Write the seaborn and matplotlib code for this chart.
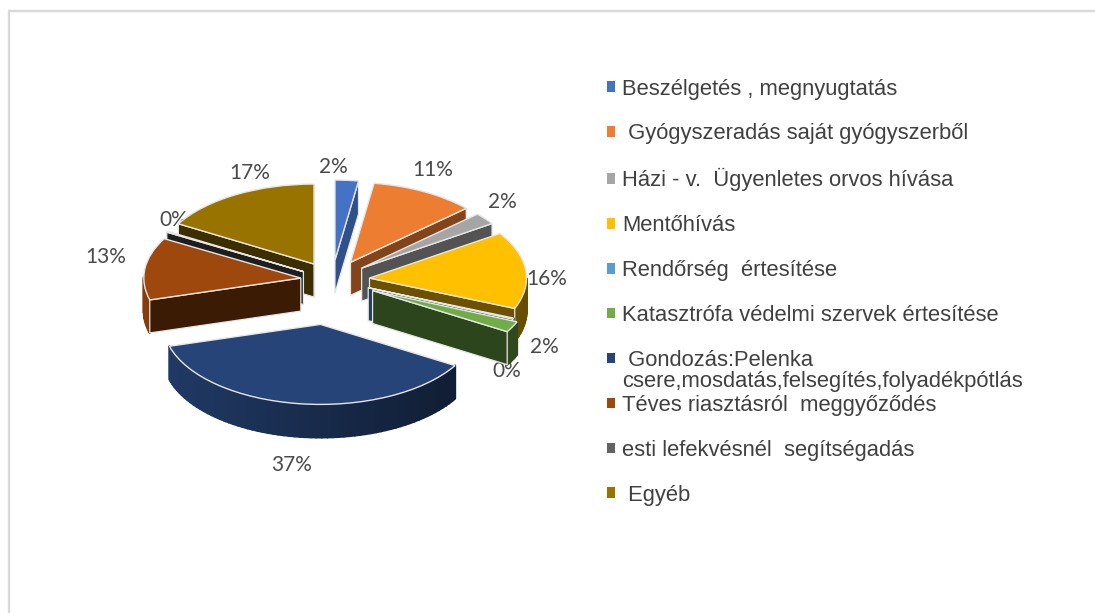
import numpy as np
import seaborn as sns
import matplotlib
matplotlib.use("Agg")
import matplotlib.pyplot as plt
from matplotlib.patches import Patch, Polygon
from matplotlib.lines import Line2D

categories = ["Beszélgetés , megnyugtatás", " Gyógyszeradás saját gyógyszerből",
              "Házi - v.  Ügyenletes orvos hívása", "Mentőhívás", "Rendőrség  értesítése",
              "Katasztrófa védelmi szervek értesítése", " Gondozás:Pelenka",
              "Téves riasztásról  meggyőződés", "esti lefekvésnél  segítségadás", " Egyéb"]
wrapped_line = "csere,mosdatás,felsegítés,folyadékpótlás"
values = [2.4, 10.8, 2.4, 15.6, 0.2, 2.2, 37.0, 12.6, 0.2, 16.6]
explode = [0.25, 0.25, 0.24, 0.24, 0.25, 0.29, 0.56, 0.20, 0.21, 0.23]
colors = ["#4472C4", "#ED7D31", "#A5A5A5", "#FFC000", "#5B9BD5",
          "#70AD47", "#264478", "#9E480E", "#636363", "#997300"]
face_shade = [0.70, 0.55, 0.50, 0.42, 0.40, 0.40, 0.40, 0.38, 0.30, 0.40]
label_xy = [(333, 167), (433, 170), (502, 202), (547, 279), (507, 371),
            (544, 347), (292, 465), (106, 257), (174, 220), (250, 173)]

W, H = 1095, 613
sns.set_theme(style="white")
plt.rcParams["font.family"] = ["Liberation Sans", "DejaVu Sans"]

fig = plt.figure(figsize=(W / 100, H / 100), dpi=100, facecolor="white")
RX, RY, CX, CY, DEPTH = 157.0, 80.0, 332.0, 280.0, 33.0

# axes whose unit circle maps to the pie's flattened ellipse
ax = fig.add_axes([0, 0, 1, 1])
wedges, _ = ax.pie(values, colors=colors, startangle=90, counterclock=False, explode=explode,
                   wedgeprops=dict(edgecolor="#e6e6e6", linewidth=1.0))
ax.set_aspect("auto")
ax.set_xlim(-CX / RX, (W - CX) / RX)
ax.set_ylim(-(H - CY) / RY, CY / RY)
ax.axis("off")
d = DEPTH / RY


def shade(c, f):
    return tuple(np.array(matplotlib.colors.to_rgb(c)) * f)


order = sorted(range(len(wedges)), key=lambda i: -wedges[i].center[1])
z = 2
for i in order:
    w = wedges[i]
    cx, cy = w.center
    t1, t2 = w.theta1, w.theta2
    base = colors[i]
    edge = "#e6e6e6"
    # outer rim, lower half only, shaded left to right
    ts = np.radians(np.linspace(t1, t2, int(max(2, (t2 - t1) / 2)) + 1))
    for a, b in zip(ts[:-1], ts[1:]):
        if np.sin((a + b) / 2) < 0:
            f = 0.85 - 0.45 * (np.cos((a + b) / 2) + 1) / 2
            col = shade(base, f)
            pts = [(cx + np.cos(a), cy + np.sin(a)), (cx + np.cos(b), cy + np.sin(b)),
                   (cx + np.cos(b), cy + np.sin(b) - d), (cx + np.cos(a), cy + np.sin(a) - d)]
            ax.add_patch(Polygon(pts, closed=True, facecolor=col, edgecolor=col,
                                 linewidth=1.6, joinstyle="round", zorder=z))
            z += 1
    # radial walls
    for t, normal in ((t1, t1 - 90), (t2, t2 + 90)):
        if np.sin(np.radians(normal)) < 0:
            ex, ey = cx + np.cos(np.radians(t)), cy + np.sin(np.radians(t))
            ax.add_patch(Polygon([(cx, cy), (ex, ey), (ex, ey - d), (cx, cy - d)], closed=True,
                                 facecolor=shade(base, face_shade[i]), edgecolor=edge,
                                 linewidth=0.9, zorder=z))
            z += 1
    w.set_zorder(z)
    z += 1

for v, (px, py) in zip(values, label_xy):
    ax.text(px / W, 1 - py / H, f"{v:.0f}%", transform=fig.transFigure, ha="center", va="center",
            color="#4a4a4a", fontsize=15, family=["Lato", "DejaVu Sans"])

handles = [Patch(facecolor=c, edgecolor="none") for c in colors]
leg = fig.legend(handles, categories, loc="upper left", bbox_to_anchor=(607 / W, 1 - 78.5 / H),
                 bbox_transform=fig.transFigure, frameon=False, fontsize=15.85,
                 labelcolor="#404040", handlelength=0.36, handleheight=0.36,
                 handletextpad=0.32, labelspacing=1.085, borderpad=0, borderaxespad=0)
fig.text(622 / W, 1 - 382 / H, wrapped_line, ha="left", va="center", color="#404040", fontsize=15.85)

# chart frame (top and left only are in view)
for xs, ys in (([9, 9], [H, 11]), ([9, W], [11, 11])):
    fig.add_artist(Line2D(np.array(xs) / W, 1 - np.array(ys) / H, color="#d9d9d9", lw=1.7))

fig.savefig("out.png", dpi=100)
